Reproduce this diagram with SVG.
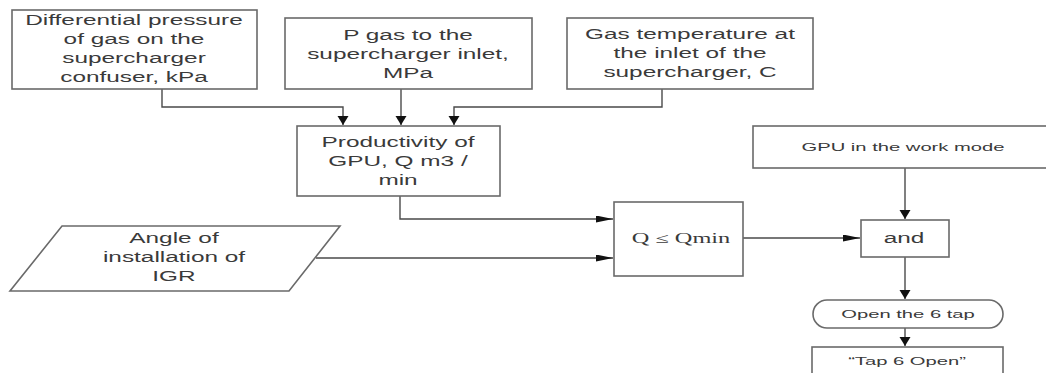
<svg xmlns="http://www.w3.org/2000/svg" width="1046" height="373" viewBox="0 0 1046 373">
<style>
.box{fill:#fff;stroke:#6a6a6a;stroke-width:1.6}
.t{font-family:"Liberation Sans",Arial,sans-serif;font-size:14px;fill:#3a3a3a;text-anchor:middle}
.s{font-size:11.6px}
.serif{font-family:"Liberation Serif","Times New Roman",serif;font-size:14px;fill:#3a3a3a;text-anchor:middle}
.c{fill:none;stroke:#4a4a4a;stroke-width:1.4}
</style>
<defs>
<marker id="ad" markerUnits="userSpaceOnUse" markerWidth="10" markerHeight="12" refX="9" refY="5.5" orient="auto"><path d="M0,0 L9,5.5 L0,11 Z" fill="#111"/></marker>
<marker id="ar" markerUnits="userSpaceOnUse" markerWidth="18" markerHeight="8" refX="17" refY="3.5" orient="auto"><path d="M0,0 L17,3.5 L0,7 Z" fill="#111"/></marker>
</defs>
<rect width="1046" height="373" fill="#fff"/>
<g id="connectors">
<path class="c" d="M162,89 V107 H343 V125" marker-end="url(#ad)"/>
<path class="c" d="M401,89 V125" marker-end="url(#ad)"/>
<path class="c" d="M662,89 V107 H454 V125" marker-end="url(#ad)"/>
<path class="c" d="M400,196 V219 H613" marker-end="url(#ar)"/>
<path class="c" d="M316,258 H613" marker-end="url(#ar)"/>
<path class="c" d="M743,238 H860" marker-end="url(#ar)"/>
<path class="c" d="M905,168 V219" marker-end="url(#ad)"/>
<path class="c" d="M905,257 V299" marker-end="url(#ad)"/>
<path class="c" d="M905,328 V346" marker-end="url(#ad)"/>
</g>
<g id="n1">
<rect class="box" x="12" y="10" width="245" height="79"/>
<g transform="translate(134,0) scale(1.74,1)"><text class="t" x="0" y="25">Differential pressure</text><text class="t" x="0" y="44">of gas on the</text><text class="t" x="0" y="63">supercharger</text><text class="t" x="0" y="82">confuser, kPa</text></g>
</g>
<g id="n2">
<rect class="box" x="285" y="18" width="247" height="71"/>
<g transform="translate(408,0) scale(1.74,1)"><text class="t" x="0" y="40">P gas to the</text><text class="t" x="0" y="59">supercharger inlet,</text><text class="t" x="0" y="78">MPa</text></g>
</g>
<g id="n3">
<rect class="box" x="567" y="18" width="246" height="71"/>
<g transform="translate(690,0) scale(1.74,1)"><text class="t" x="0" y="39">Gas temperature at</text><text class="t" x="0" y="58">the inlet of the</text><text class="t" x="0" y="77">supercharger, C</text></g>
</g>
<g id="n4">
<rect class="box" x="297" y="126" width="203" height="70"/>
<g transform="translate(398,0) scale(1.74,1)"><text class="t" x="0" y="147">Productivity of</text><text class="t" x="0" y="166">GPU, Q m3 /</text><text class="t" x="0" y="185">min</text></g>
</g>
<g id="n5">
<polygon class="box" points="62,226 340,226 289,291 10,291"/>
<g transform="translate(174,0) scale(1.74,1)"><text class="t" x="0" y="243">Angle of</text><text class="t" x="0" y="262">installation of</text><text class="t" x="0" y="281">IGR</text></g>
</g>
<g id="n6">
<rect class="box" x="614" y="202" width="129" height="74"/>
<g transform="translate(681,0) scale(1.74,1)"><text class="serif" x="0" y="243">Q ≤ Qmin</text></g>
</g>
<g id="n7">
<rect class="box" x="753" y="126" width="300" height="42"/>
<g transform="translate(903,0) scale(1.74,1)"><text class="t s" x="0" y="151">GPU in the work mode</text></g>
</g>
<g id="n8">
<rect class="box" x="861" y="220" width="88" height="37"/>
<g transform="translate(904,0) scale(1.74,1)"><text class="t" x="0" y="243">and</text></g>
</g>
<g id="n9">
<rect class="box" x="813" y="300" width="190" height="28" rx="14" ry="14"/>
<g transform="translate(908,0) scale(1.74,1)"><text class="t s" x="0" y="318">Open the 6 tap</text></g>
</g>
<g id="n10">
<rect class="box" x="812" y="347" width="191" height="36"/>
<g transform="translate(907,0) scale(1.74,1)"><text class="t s" x="0" y="365">“Tap 6 Open”</text></g>
</g>
</svg>
